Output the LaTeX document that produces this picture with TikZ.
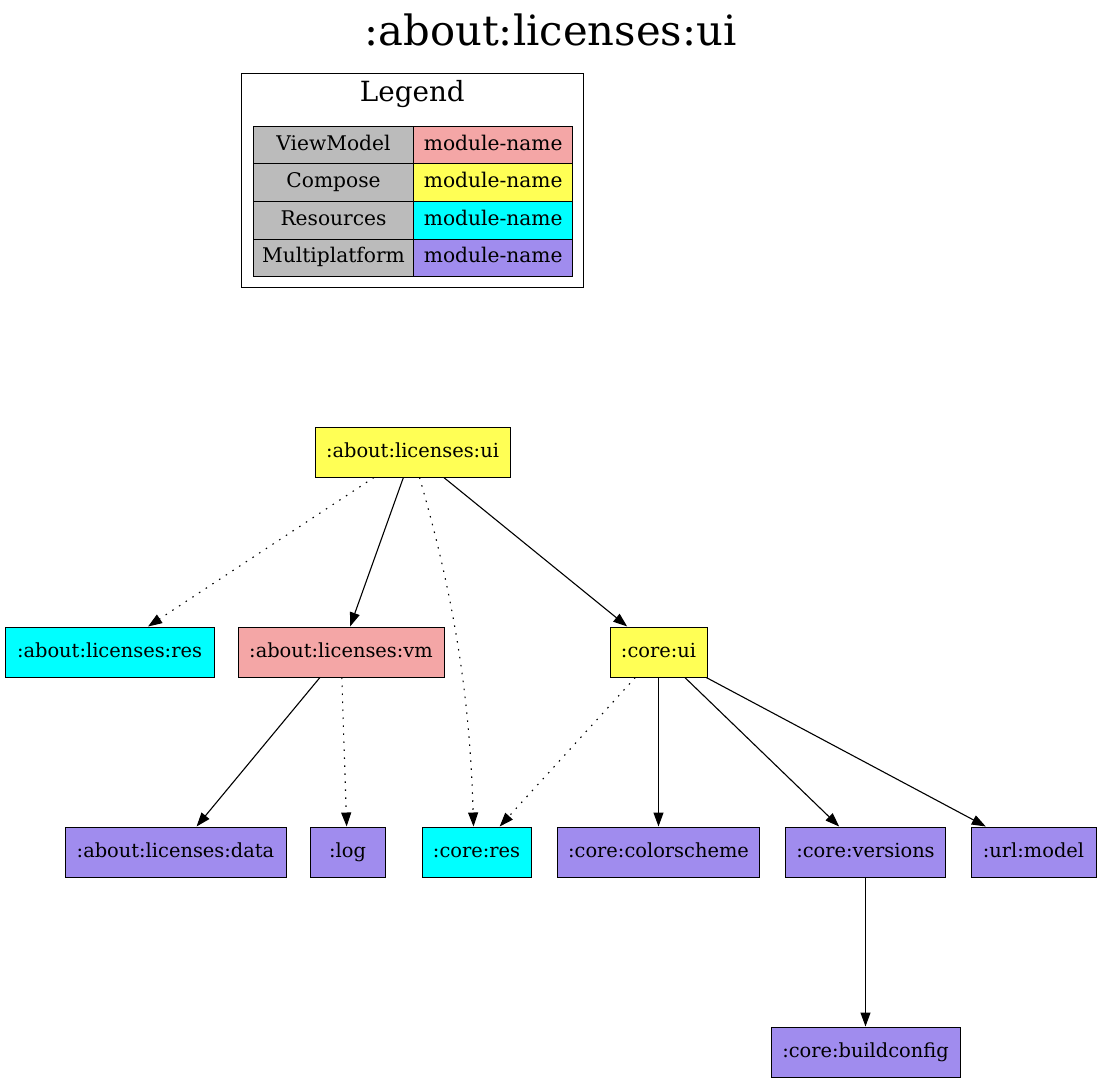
\documentclass[tikz,border=0pt]{standalone}
\usepackage{fontspec}
\setmainfont{DejaVu Serif}
\usetikzlibrary{arrows.meta}
\definecolor{vmcol}{HTML}{F4A6A6}
\definecolor{cmpcol}{HTML}{FFFF55}
\definecolor{rescol}{HTML}{00FFFF}
\definecolor{mpcol}{HTML}{A08CEE}
\definecolor{legcol}{HTML}{BBBBBB}
\begin{document}
\begin{tikzpicture}[x=1pt,y=-1pt,
  mod/.style={draw=black, line width=1pt, minimum height=50pt, inner sep=0pt, text height=15pt, text depth=4.4pt, font=\fontsize{19.4}{23}\selectfont},
  cell/.style={draw=black, line width=1pt, minimum height=37.6pt, inner sep=0pt, text height=15pt, text depth=5pt, font=\fontsize{20.2}{24}\selectfont},
  dep/.style={line width=1.1pt, -{Triangle[length=14pt,width=10pt]}},
  weak/.style={dep, dash pattern=on 1.5pt off 6.5pt}]
\useasboundingbox[fill=white] (0,0) rectangle (1101,1082);
% title
\node[font=\fontsize{41.7}{48}\selectfont] (title) at (550.5,30) {:about:licenses:ui};
% legend
\node[draw=black, line width=1pt, minimum width=341.5pt, minimum height=214pt, inner sep=0pt] (legbox) at (412.3,180.2) {};
\node[font=\fontsize{27.8}{32}\selectfont] (legtitle) at (412.3,94) {Legend};
\node[cell, fill=legcol, minimum width=161pt] (l1) at (333.5,145) {ViewModel};
\node[cell, fill=vmcol, minimum width=158.5pt] (r1) at (493.2,145) {module-name};
\node[cell, fill=legcol, minimum width=161pt] (l2) at (333.5,182.6) {Compose};
\node[cell, fill=cmpcol, minimum width=158.5pt] (r2) at (493.2,182.6) {module-name};
\node[cell, fill=legcol, minimum width=161pt] (l3) at (333.5,220.2) {Resources};
\node[cell, fill=rescol, minimum width=158.5pt] (r3) at (493.2,220.2) {module-name};
\node[cell, fill=legcol, minimum width=161pt] (l4) at (333.5,257.8) {Multiplatform};
\node[cell, fill=mpcol, minimum width=158.5pt] (r4) at (493.2,257.8) {module-name};
% modules
\node[mod, fill=cmpcol, minimum width=195pt] (ui) at (412.5,452) {:about:licenses:ui};
\node[mod, fill=rescol, minimum width=209pt] (res) at (109.5,652) {:about:licenses:res};
\node[mod, fill=vmcol, minimum width=206pt] (vm) at (341,652) {:about:licenses:vm};
\node[mod, fill=cmpcol, minimum width=97pt] (coreui) at (658.5,652) {:core:ui};
\node[mod, fill=mpcol, minimum width=221pt] (data) at (175.5,852) {:about:licenses:data};
\node[mod, fill=mpcol, minimum width=75pt] (log) at (347.5,852) {:log};
\node[mod, fill=rescol, minimum width=109pt] (cres) at (476.5,852) {:core:res};
\node[mod, fill=mpcol, minimum width=202pt] (color) at (658.5,852) {:core:colorscheme};
\node[mod, fill=mpcol, minimum width=160pt] (vers) at (865.5,852) {:core:versions};
\node[mod, fill=mpcol, minimum width=125pt] (url) at (1033.5,852) {:url:model};
\node[mod, fill=mpcol, minimum width=189pt] (build) at (865.5,1052) {:core:buildconfig};
% connectors
\draw[weak] (ui) -- (res);
\draw[dep] (ui) -- (vm);
\draw[weak] ([xshift=7pt]ui.south) .. controls (455,600) and (470,700) .. ([xshift=-3pt]cres.north);
\draw[dep] (ui) -- (coreui);
\draw[dep] (vm) -- (data);
\draw[weak] (vm) -- (log);
\draw[weak] (coreui) -- (cres);
\draw[dep] (coreui) -- (color);
\draw[dep] (coreui) -- (vers);
\draw[dep] (coreui) -- (url);
\draw[dep] (vers) -- (build);
\end{tikzpicture}
\end{document}
